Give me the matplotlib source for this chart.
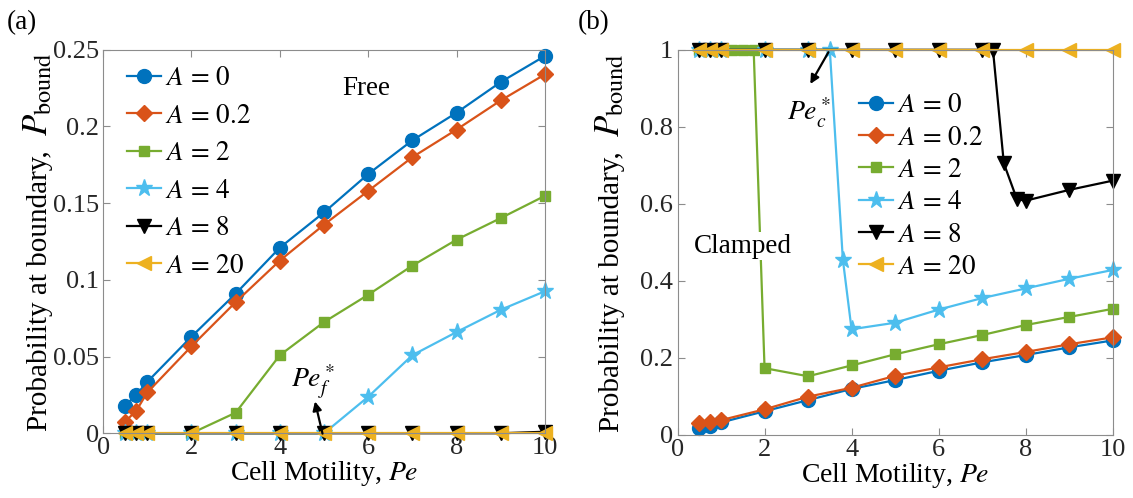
import matplotlib
matplotlib.use('Agg')
import matplotlib.pyplot as plt

plt.rcParams['font.family'] = ['Liberation Serif', 'DejaVu Serif']
plt.rcParams['mathtext.fontset'] = 'stix'

# Pe sampled on the common grid
pe = [0.5, 0.75, 1, 2, 3, 4, 5, 6, 7, 8, 9, 10]

# (a) free boundary
free_A0 = [0.018, 0.025, 0.0335, 0.063, 0.091, 0.121, 0.144, 0.169, 0.191, 0.209, 0.229, 0.246]
free_A02 = [0.0076, 0.0147, 0.0266, 0.0567, 0.0855, 0.1126, 0.136, 0.158, 0.180, 0.198, 0.217, 0.234]
free_A2 = [0, 0, 0, 0, 0.0134, 0.0509, 0.0725, 0.0903, 0.1093, 0.1262, 0.1403, 0.1548]
free_A4 = [0, 0, 0, 0, 0, 0, 0, 0.0238, 0.0509, 0.066, 0.0805, 0.0926]
free_A8 = [0, 0, 0, 0, 0, 0, 0, 0, 0, 0, 0, 0.001]
free_A20 = [0, 0, 0, 0, 0, 0, 0, 0, 0, 0, 0, 0]

# (b) clamped boundary
clamp_A0 = [0.017, 0.024, 0.032, 0.061, 0.090, 0.119, 0.142, 0.166, 0.188, 0.207, 0.227, 0.245]
clamp_A02 = [0.031, 0.034, 0.038, 0.066, 0.099, 0.122, 0.153, 0.175, 0.196, 0.215, 0.235, 0.253]
pe_A2 = [0.5, 0.75, 1, 1.25, 1.5, 1.75, 2, 3, 4, 5, 6, 7, 8, 9, 10]
clamp_A2 = [1, 1, 1, 1, 1, 1, 0.173, 0.152, 0.180, 0.209, 0.235, 0.259, 0.285, 0.306, 0.327]
pe_A4 = [0.5, 0.75, 1, 2, 3, 3.5, 3.8, 4, 5, 6, 7, 8, 9, 10]
clamp_A4 = [1, 1, 1, 1, 1, 1, 0.455, 0.274, 0.291, 0.325, 0.355, 0.380, 0.405, 0.428]
pe_A8 = [0.5, 0.75, 1, 2, 3, 4, 5, 6, 7, 7.25, 7.5, 7.8, 8, 9, 10]
clamp_A8 = [1, 1, 1, 1, 1, 1, 1, 1, 1, 1, 0.705, 0.612, 0.608, 0.636, 0.66]
clamp_A20 = [1, 1, 1, 1, 1, 1, 1, 1, 1, 1, 1, 1]

labels = [r'$A\,=\,0$', r'$A\,=\,0.2$', r'$A\,=\,2$', r'$A\,=\,4$', r'$A\,=\,8$', r'$A\,=\,20$']
colors = ['#0072BD', '#D95319', '#77AC30', '#4DBEEE', 'black', '#EDB120']
markers = ['o', 'D', 's', '*', 'v', '<']
msizes = [10, 8, 7.5, 12.5, 9.5, 10]

fs = 19
lfs = 19.5
spine_col = '#8c8c8c'

fig = plt.figure(figsize=(11.33, 4.98), dpi=100)
axa = fig.add_axes([0.091, 0.13, 0.390, 0.77])
axb = fig.add_axes([0.598, 0.127, 0.384, 0.773])

series_a = [(pe, free_A0), (pe, free_A02), (pe, free_A2), (pe, free_A4), (pe, free_A8), (pe, free_A20)]
series_b = [(pe, clamp_A0), (pe, clamp_A02), (pe_A2, clamp_A2), (pe_A4, clamp_A4), (pe_A8, clamp_A8), (pe, clamp_A20)]

for ax, series in [(axa, series_a), (axb, series_b)]:
    for (x, y), lab, c, m, ms in zip(series, labels, colors, markers, msizes):
        ax.plot(x, y, color=c, marker=m, markersize=ms, lw=1.6, label=lab, clip_on=False,
                markeredgecolor=c)
    ax.set_xlim(0, 10)
    ax.set_xticks([0, 2, 4, 6, 8, 10])
    ax.tick_params(direction='in', top=True, right=True, labelsize=fs, colors=spine_col,
                   labelcolor='#262626', length=5, pad=3)
    for s in ax.spines.values():
        s.set_color(spine_col)
    ax.set_xlabel(r'Cell Motility, $Pe$', fontsize=20, labelpad=0)

axa.set_ylim(0, 0.25)
axa.set_yticks([0, 0.05, 0.1, 0.15, 0.2, 0.25])
axa.set_yticklabels(['0', '0.05', '0.1', '0.15', '0.2', '0.25'])
axb.set_ylim(0, 1)
axb.set_yticks([0, 0.2, 0.4, 0.6, 0.8, 1])
axb.set_yticklabels(['0', '0.2', '0.4', '0.6', '0.8', '1'])

leg_kw = dict(loc='upper left', frameon=False, fontsize=lfs, handlelength=1.25,
              handletextpad=0.15, borderpad=0, borderaxespad=0)
axa.legend(bbox_to_anchor=(0.055, 0.957), labelspacing=0.46, **leg_kw)
axb.legend(bbox_to_anchor=(0.418, 0.887), labelspacing=0.27, **leg_kw)

# annotations
axa.text(5.95, 0.225, 'Free', fontsize=lfs, ha='center', va='center')
axa.text(4.75, 0.034, r'$Pe_f^*$', fontsize=20, ha='center', va='center')
axa.annotate('', xy=(4.78, 0.0225), xytext=(4.98, -0.002),
             arrowprops=dict(arrowstyle='-|>', color='black', lw=1.6, mutation_scale=13),
             annotation_clip=False)

axb.text(1.5, 0.49, 'Clamped', fontsize=lfs, ha='center', va='center',
         bbox=dict(facecolor='white', edgecolor='none', pad=1))
axb.text(3.02, 0.835, r'$Pe_c^*$', fontsize=20, ha='center', va='center')
axb.annotate('', xy=(3.02, 0.905), xytext=(3.5, 1.0),
             arrowprops=dict(arrowstyle='-|>', color='black', lw=1.6, mutation_scale=13))

fig.text(0.006, 0.955, '(a)', fontsize=lfs, ha='left', va='center')
fig.text(0.51, 0.955, '(b)', fontsize=lfs, ha='left', va='center')

# y labels: plain text followed by a larger P_bound, centred on the axes
W, H = fig.bbox.width, fig.bbox.height
renderer = fig.canvas.get_renderer()
for ax, xbase in [(axa, 47), (axb, 619)]:
    t1 = fig.text(0, 0, 'Probability at boundary,', fontsize=21, rotation=90,
                  rotation_mode='anchor', ha='left', va='baseline')
    t2 = fig.text(0, 0, r'$P_{\mathrm{bound}}$', fontsize=25, rotation=90,
                  rotation_mode='anchor', ha='left', va='baseline')
    len1 = t1.get_window_extent(renderer).height
    len2 = t2.get_window_extent(renderer).height
    gap = 14
    bb = ax.get_window_extent(renderer)
    cy = 0.5 * (bb.y0 + bb.y1)
    y0 = cy - 0.5 * (len1 + gap + len2)
    t1.set_position((xbase / W, y0 / H))
    t2.set_position((xbase / W, (y0 + len1 + gap) / H))

fig.savefig('out.png', dpi=100)
